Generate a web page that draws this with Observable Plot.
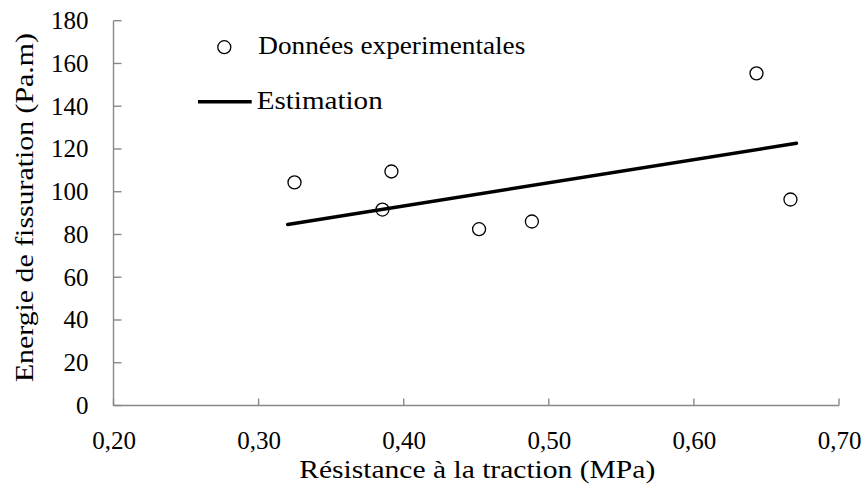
<!DOCTYPE html>
<html>
<head>
<meta charset="utf-8">
<script src="https://cdn.jsdelivr.net/npm/d3@7"></script>
<script src="https://cdn.jsdelivr.net/npm/@observablehq/plot@0.6"></script>
<style>
  html, body { margin: 0; padding: 0; background: #fff; }
  #chart { width: 865px; height: 491px; }
  #chart svg, #chart svg text { font-family: "Liberation Serif", "Times New Roman", serif; }
</style>
</head>
<body>
<div id="chart"></div>
<script>
// ---- Data ----
const pointX = [0.3244, 0.3850, 0.3912, 0.4516, 0.4880, 0.6428, 0.6662];
const pointY = [104.6, 91.9, 109.7, 82.7, 86.3, 155.6, 96.6];
const fitX = [0.3197, 0.6703];
const fitY = [84.9, 122.9];
const xTicks = [0.2, 0.3, 0.4, 0.5, 0.6, 0.7];
const yTicks = [0, 20, 40, 60, 80, 100, 120, 140, 160, 180];
const xLabel = "Résistance à la traction (MPa)";
const yLabel = "Energie de fissuration (Pa.m)";
const seriesNames = ["Données experimentales", "Estimation"];

const points = pointX.map((x, i) => ({x, y: pointY[i]}));
const fit = fitX.map((x, i) => ({x, y: fitY[i]}));

const FONT = "Liberation Serif, Times New Roman, serif";
const AXIS = "#898989";
const FS = 25;

// axis lines + inward ticks, positioned through Plot's scales
function axisFrame(index, scales) {
  const g = d3.create("svg:g")
    .attr("stroke", AXIS).attr("stroke-width", 1.4).attr("fill", "none");
  const x0 = scales.x(xTicks[0]), x1 = scales.x(xTicks[xTicks.length - 1]);
  const y0 = scales.y(yTicks[0]), y1 = scales.y(yTicks[yTicks.length - 1]);
  g.append("line").attr("x1", x0).attr("x2", x1).attr("y1", y0).attr("y2", y0);
  g.append("line").attr("x1", x0).attr("x2", x0).attr("y1", y0).attr("y2", y1);
  for (const t of xTicks) {
    const px = scales.x(t);
    g.append("line").attr("x1", px).attr("x2", px).attr("y1", y0).attr("y2", y0 - 7);
  }
  for (const t of yTicks) {
    const py = scales.y(t);
    g.append("line").attr("x1", x0).attr("x2", x0 + 8).attr("y1", py).attr("y2", py);
  }
  return g.node();
}

// axis titles and in-plot legend
function annotations(index, scales) {
  const g = d3.create("svg:g")
    .attr("font-family", FONT)
    .attr("font-size", FS)
    .attr("fill", "black");
  const x0 = scales.x(xTicks[0]), x1 = scales.x(xTicks[xTicks.length - 1]);
  const y0 = scales.y(yTicks[0]), y1 = scales.y(yTicks[yTicks.length - 1]);
  // x title
  g.append("text")
    .attr("x", (x0 + x1) / 2 + 1).attr("y", y0 + 72.5)
    .attr("text-anchor", "middle")
    .attr("textLength", 356).attr("lengthAdjust", "spacingAndGlyphs")
    .text(xLabel);
  // y title
  g.append("text")
    .attr("transform", `translate(${x0 - 80.5},${(y0 + y1) / 2 - 5.5}) rotate(-90)`)
    .attr("text-anchor", "middle")
    .attr("textLength", 349).attr("lengthAdjust", "spacingAndGlyphs")
    .text(yLabel);
  // legend
  const lx = x0, ly = y1;
  g.append("circle")
    .attr("cx", lx + 110.8).attr("cy", ly + 26.5).attr("r", 6.5)
    .attr("fill", "none").attr("stroke", "black").attr("stroke-width", 1.3);
  g.append("text")
    .attr("x", lx + 144.8).attr("y", ly + 33.5)
    .attr("text-anchor", "start")
    .attr("textLength", 267).attr("lengthAdjust", "spacingAndGlyphs")
    .text(seriesNames[0]);
  g.append("line")
    .attr("x1", lx + 84.5).attr("x2", lx + 138.2)
    .attr("y1", ly + 81).attr("y2", ly + 81)
    .attr("stroke", "black").attr("stroke-width", 3.5);
  g.append("text")
    .attr("x", lx + 143.2).attr("y", ly + 88)
    .attr("text-anchor", "start")
    .attr("textLength", 126).attr("lengthAdjust", "spacingAndGlyphs")
    .text(seriesNames[1]);
  return g.node();
}

const fmt = d => d.toFixed(2).replace(".", ",");

const chart = Plot.plot({
  width: 865,
  height: 491,
  marginLeft: 113.5,
  marginRight: 26,
  marginTop: 20.7,
  marginBottom: 85.5,
  style: {fontFamily: FONT, fontSize: FS + "px", color: "black", background: "white"},
  x: {domain: [0.2, 0.7], ticks: xTicks, tickSize: 0, tickPadding: 25.5, tickFormat: fmt, label: null},
  y: {domain: [0, 180], ticks: yTicks, tickSize: 0, tickPadding: 25.5, tickFormat: d => String(d), label: null},
  marks: [
    axisFrame,
    Plot.line(fit, {x: "x", y: "y", stroke: "black", strokeWidth: 3.5}),
    Plot.dot(points, {x: "x", y: "y", r: 6.5, fill: "none", stroke: "black", strokeWidth: 1.3}),
    annotations
  ]
});
chart.setAttribute("font-family", FONT);
document.getElementById("chart").appendChild(chart);
</script>
</body>
</html>
